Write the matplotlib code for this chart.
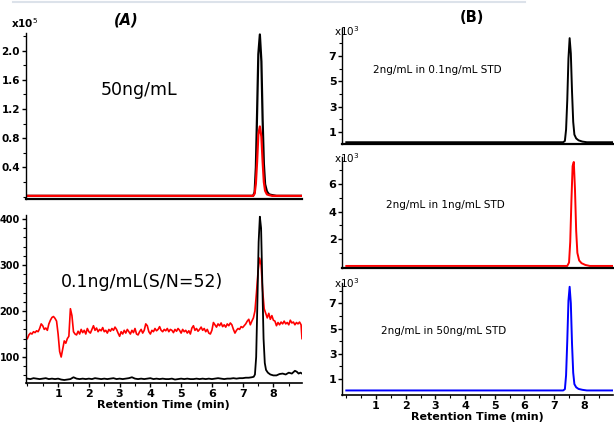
import numpy as np
import matplotlib
matplotlib.use("Agg")
import matplotlib.pyplot as plt
from matplotlib.ticker import MultipleLocator, FixedLocator

# *********************************************
# Data
# *********************************************
# (A) top: 50 ng/mL, intensity x1e5
peak_t = [0, 7.34, 7.39, 7.43, 7.47, 7.51, 7.56, 7.61, 7.65, 7.69, 7.73, 7.79, 7.86, 7.96, 8.10, 8.93]
a50_black = [0.01, 0.01, 0.06, 0.40, 1.15, 1.95, 2.22, 1.85, 1.05, 0.45, 0.17, 0.07, 0.03, 0.02, 0.01, 0.01]
a50_red = [0.01, 0.01, 0.04, 0.18, 0.48, 0.85, 0.96, 0.82, 0.48, 0.20, 0.08, 0.03, 0.02, 0.01, 0.01, 0.01]

# (A) bottom: 0.1 ng/mL, red trace sampled every 0.05 min, last point at 8.93
a01_red = [
    140, 148, 152, 150, 155, 153, 157, 155, 162, 172, 168, 160, 163, 158, 172, 180, 186, 188, 184, 178,
    150, 112, 100, 118, 135, 130, 140, 145, 205, 190, 155, 150, 148, 156, 150, 160, 153, 158, 150, 162,
    155, 152, 160, 168, 158, 163, 155, 160, 157, 164, 155, 158, 152, 160, 156, 162, 158, 165, 160, 152,
    145, 155, 150, 158, 152, 160, 155, 150, 158, 153, 162, 150, 148, 155, 160, 152, 158, 172, 168, 155,
    150, 158, 155, 162, 157, 160, 166, 158, 155, 160, 157, 162, 155, 160, 158, 153, 160, 156, 162, 158,
    152, 160, 155, 158, 152, 157, 150, 163, 168, 158, 162, 156, 160, 165, 158, 162, 155, 160, 152, 150,
    158, 175, 170, 165, 172, 168, 174, 166, 170, 165, 172, 168, 174, 170, 160, 152, 158, 162, 160, 166,
    164, 168, 172, 178, 182, 170, 178, 185, 200, 240, 285, 315, 300, 245, 205, 195, 185, 195, 182, 190,
    180, 178, 168, 175, 170, 176, 172, 178, 172, 175, 170, 180, 174, 176, 170, 175, 172, 176, 170,
    140,
]
# black trace: baseline every 0.1 min up to 7.3, then the peak points
a01_black_base = [
    53, 52, 54, 53, 52, 53, 54, 52, 53, 52,
    53, 51, 50, 51, 52, 56, 53, 52, 53, 52,
    53, 52, 54, 53, 52, 53, 52, 53, 54, 52,
    53, 52, 53, 54, 56, 53, 52, 53, 52, 53,
    54, 52, 53, 52, 53, 52, 52, 53, 51, 52,
    53, 52, 53, 52, 52, 53, 52, 53, 52, 53,
    52, 53, 54, 53, 52, 53, 53, 54, 53, 54,
    54, 55, 55, 56,
]
a01_black_pk_t = [7.36, 7.40, 7.44, 7.48, 7.52, 7.56, 7.60, 7.64, 7.68, 7.72, 7.76, 7.82, 7.90, 8.00,
                  8.10, 8.20, 8.30, 8.40, 8.50, 8.60, 8.70, 8.76, 8.82, 8.88, 8.93]
a01_black_pk = [57, 62, 100, 220, 350, 405, 380, 260, 140, 87, 72, 66, 62, 60,
                60, 63, 64, 62, 66, 64, 70, 68, 64, 66, 64]

# (B) three spiked samples, intensity x1e3
b_t = [0, 7.30, 7.36, 7.40, 7.44, 7.48, 7.52, 7.56, 7.60, 7.64, 7.68, 7.74, 7.82, 7.95, 8.10, 8.98]
b01 = [0.2, 0.2, 0.3, 1.2, 3.5, 6.8, 8.4, 7.2, 4.2, 1.8, 0.8, 0.5, 0.35, 0.25, 0.2, 0.2]
b_t1 = [0, 7.44, 7.50, 7.54, 7.58, 7.62, 7.66, 7.70, 7.74, 7.78, 7.84, 7.92, 8.05, 8.20, 8.98]
b1 = [0.05, 0.05, 0.3, 1.8, 4.8, 7.3, 7.6, 5.6, 2.6, 1.0, 0.45, 0.25, 0.12, 0.05, 0.05]
b50 = [0.1, 0.1, 0.2, 1.3, 4.0, 7.2, 8.3, 7.0, 3.8, 1.5, 0.6, 0.35, 0.22, 0.15, 0.1, 0.1]

W, H = 614, 426
fig = plt.figure(figsize=(W / 100, H / 100), dpi=100)
plt.rcParams['font.family'] = ['DejaVu Sans']


def px_axes(x0, y0, x1, y1):
    # axes from pixel box (top-left origin)
    ax = fig.add_axes([x0 / W, 1 - y1 / H, (x1 - x0) / W, (y1 - y0) / H])
    ax.patch.set_alpha(0)
    for s in ['top', 'right']:
        ax.spines[s].set_visible(False)
    ax.spines['left'].set_linewidth(1.0)
    ax.spines['bottom'].set_linewidth(1.6)
    ax.tick_params(axis='y', which='major', length=3, width=1, pad=1)
    ax.tick_params(axis='y', which='minor', length=2, width=0.8)
    return ax


def style_x(ax, show):
    ax.xaxis.set_major_locator(MultipleLocator(1))
    ax.xaxis.set_minor_locator(MultipleLocator(0.5))
    if show:
        ax.tick_params(axis='x', which='major', length=3, width=1, labelsize=8, pad=1)
        ax.tick_params(axis='x', which='minor', length=2, width=0.8)
        ax.set_xticks([1, 2, 3, 4, 5, 6, 7, 8])
        ax.set_xticklabels([str(i) for i in range(1, 9)], fontweight='bold')
        ax.set_xlabel("Retention Time (min)", fontsize=8, fontweight='bold', labelpad=1)
    else:
        ax.tick_params(axis='x', which='both', length=0, labelbottom=False)


def bold_y(ax, ticks, labels, size=7.5):
    ax.set_yticks(ticks)
    ax.set_yticklabels(labels, fontweight='bold', fontsize=size)


# ---- (A) top
ax = px_axes(25.5, 33, 302, 199.5)
ax.plot(peak_t, a50_black, color='black', lw=1.6)
ax.plot(peak_t, a50_red, color='#ff0000', lw=1.6)
ax.set_xlim(-0.06, 8.93)
ax.set_ylim(-0.04, 2.24)
bold_y(ax, [0.4, 0.8, 1.2, 1.6, 2.0], ['0.4', '0.8', '1.2', '1.6', '2.0'])
ax.yaxis.set_minor_locator(MultipleLocator(0.2))
style_x(ax, False)
ax.text(0.41, 0.655, "50ng/mL", transform=ax.transAxes, ha='center', va='center', fontsize=12.5)

# ---- (A) bottom
ax = px_axes(25.5, 215, 302, 383)
red_t = np.append(np.round(np.arange(len(a01_red) - 1) * 0.05, 2), 8.93)
ax.plot(red_t, a01_red, color='#ff0000', lw=1.2)
blk_t = np.concatenate([np.round(np.arange(len(a01_black_base)) * 0.1, 2), a01_black_pk_t])
ax.plot(blk_t, a01_black_base + a01_black_pk, color='black', lw=1.3)
ax.set_xlim(-0.06, 8.93)
ax.set_ylim(43.5, 408.7)
bold_y(ax, [100, 200, 300, 400], ['100', '200', '300', '400'], size=7)
ax.yaxis.set_minor_locator(MultipleLocator(20))
ax.spines['bottom'].set_linewidth(1.2)
style_x(ax, True)
ax.text(0.42, 0.6, "0.1ng/mL(S/N=52)", transform=ax.transAxes, ha='center', va='center', fontsize=12.5)

# ---- (B) panels
right_x0, right_x1 = 342, 613
xl = (-0.145, 8.98)

ax = px_axes(right_x0, 28, right_x1, 143.5)
ax.plot(b_t, b01, color='black', lw=1.4)
ax.set_xlim(*xl)
ax.set_ylim(0.1, 9.2)
bold_y(ax, [1, 3, 5, 7], ['1', '3', '5', '7'], size=8)
ax.yaxis.set_minor_locator(FixedLocator([2, 4, 6, 8]))
style_x(ax, False)
ax.text(0.35, 0.64, "2ng/mL in 0.1ng/mL STD", transform=ax.transAxes, ha='center', va='center', fontsize=7.5)

ax = px_axes(right_x0, 157, right_x1, 268)
ax.plot(b_t1, b1, color='#ff0000', lw=1.4)
ax.set_xlim(*xl)
ax.set_ylim(-0.1, 7.96)
bold_y(ax, [2, 4, 6], ['2', '4', '6'], size=8)
ax.yaxis.set_minor_locator(FixedLocator([1, 3, 5, 7]))
style_x(ax, False)
ax.text(0.38, 0.57, "2ng/mL in 1ng/mL STD", transform=ax.transAxes, ha='center', va='center', fontsize=7.5)

ax = px_axes(right_x0, 283, right_x1, 395)
ax.plot(b_t, b50, color='#0000ff', lw=1.4)
ax.set_xlim(*xl)
ax.set_ylim(-0.26, 8.6)
bold_y(ax, [1, 3, 5, 7], ['1', '3', '5', '7'], size=8)
ax.yaxis.set_minor_locator(FixedLocator([2, 4, 6, 8]))
ax.spines['bottom'].set_linewidth(1.2)
style_x(ax, True)
ax.text(0.375, 0.57, "2ng/mL in 50ng/mL STD", transform=ax.transAxes, ha='center', va='center', fontsize=7.5)

# multipliers and panel tags
fig.text(11 / W, 1 - 23 / H, r'x10$^5$', fontsize=7.5, fontweight='bold', va='center')
fig.text(334 / W, 1 - 31 / H, r'x10$^3$', fontsize=7.5, va='center')
fig.text(334 / W, 1 - 158 / H, r'x10$^3$', fontsize=7.5, va='center')
fig.text(334 / W, 1 - 283 / H, r'x10$^3$', fontsize=7.5, va='center')
fig.text(126 / W, 1 - 20 / H, "(A)", fontsize=10.5, style='italic', fontweight='bold', ha='center', va='center')
fig.text(472 / W, 1 - 17 / H, "(B)", fontsize=10.5, fontweight='bold', ha='center', va='center')

# faint rule across the top of the page
fig.add_artist(plt.Line2D([13 / W, 525 / W], [1 - 2 / H, 1 - 2 / H], color='#dce2ea', lw=1.5))

plt.savefig("out.png", dpi=100)
